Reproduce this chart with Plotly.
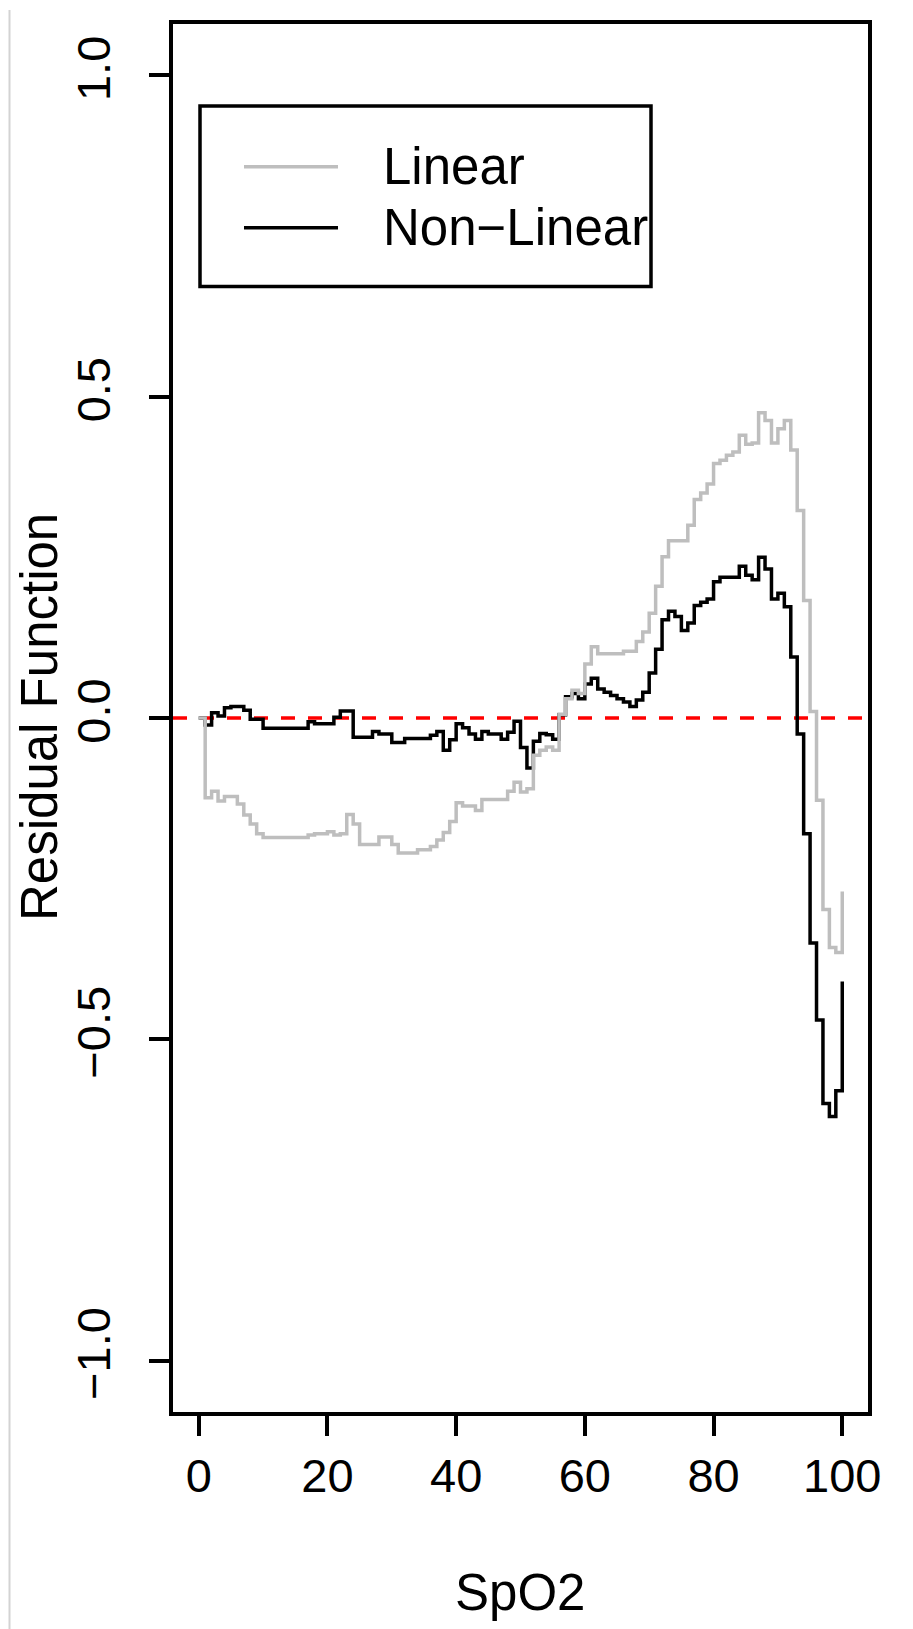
import plotly.graph_objects as go

# ---------------- data ----------------
spo2 = list(range(0, 101))

linear = [
    0.0,
    -0.124, -0.114, -0.129, -0.122, -0.122, -0.134, -0.151, -0.165, -0.180, -0.186,
    -0.186, -0.186, -0.186, -0.186, -0.186, -0.186, -0.182, -0.180, -0.180, -0.177,
    -0.182, -0.180, -0.150, -0.165, -0.197, -0.197, -0.197, -0.185, -0.185, -0.197,
    -0.210, -0.210, -0.210, -0.205, -0.205, -0.200, -0.190, -0.178, -0.161, -0.132,
    -0.137, -0.137, -0.144, -0.127, -0.127, -0.127, -0.127, -0.114, -0.100, -0.115,
    -0.110, -0.058, -0.050, -0.045, -0.050, 0.006, 0.030, 0.043, 0.038, 0.084,
    0.111, 0.100, 0.100, 0.100, 0.100, 0.104, 0.104, 0.119, 0.134, 0.163,
    0.205, 0.251, 0.276, 0.276, 0.276, 0.300, 0.340, 0.350, 0.364, 0.396,
    0.401, 0.409, 0.414, 0.440, 0.426, 0.428, 0.475, 0.463, 0.428, 0.450,
    0.463, 0.417, 0.323, 0.183, 0.010, -0.128, -0.298, -0.357, -0.365, -0.270,
]

nonlinear = [
    0.0,
    -0.011, 0.008, 0.003, 0.016, 0.018, 0.018, 0.012, -0.002, -0.002, -0.016,
    -0.016, -0.016, -0.016, -0.016, -0.016, -0.016, -0.006, -0.009, -0.009, -0.009,
    0.001, 0.011, 0.011, -0.030, -0.030, -0.030, -0.021, -0.025, -0.025, -0.038,
    -0.038, -0.032, -0.032, -0.032, -0.032, -0.027, -0.021, -0.050, -0.034, -0.009,
    -0.015, -0.025, -0.033, -0.021, -0.025, -0.025, -0.033, -0.022, -0.005, -0.046,
    -0.078, -0.036, -0.024, -0.026, -0.033, 0.005, 0.033, 0.038, 0.030, 0.053,
    0.062, 0.045, 0.040, 0.035, 0.030, 0.025, 0.018, 0.028, 0.040, 0.070,
    0.107, 0.153, 0.166, 0.158, 0.136, 0.148, 0.175, 0.180, 0.185, 0.212,
    0.219, 0.219, 0.219, 0.236, 0.222, 0.215, 0.250, 0.232, 0.185, 0.194,
    0.173, 0.095, -0.025, -0.180, -0.350, -0.470, -0.600, -0.620, -0.580, -0.410,
]

series_names = ["Linear", "Non\u2212Linear"]
series_colors = ["#BEBEBE", "#000000"]
x_ticks = [0, 20, 40, 60, 80, 100]
y_ticks = [-1.0, -0.5, 0.0, 0.5, 1.0]
y_tick_text = ["\u22121.0", "\u22120.5", "0.0", "0.5", "1.0"]

# ---------------- layout geometry ----------------
W, H = 913, 1629
L, R, T, B = 165, 53, 14, 225
PW, PH = W - L - R, H - T - B


def pxx(px):
    return (px - L) / PW


def pxy(py):
    return 1 - (py - T) / PH


FONT = "Liberation Sans, Arial, sans-serif"
TITLE_SIZE = 51
TICK_SIZE = 47
LW = 3.5

fig = go.Figure()

# non-linear first, linear drawn on top
fig.add_trace(go.Scatter(x=spo2, y=nonlinear, mode="lines", line_shape="hv",
                         line=dict(color=series_colors[1], width=LW),
                         name=series_names[1], showlegend=False))
fig.add_trace(go.Scatter(x=spo2, y=linear, mode="lines", line_shape="hv",
                         line=dict(color=series_colors[0], width=LW),
                         name=series_names[0], showlegend=False))

shapes = [
    # horizontal reference line at 0
    dict(type="line", xref="paper", yref="y", x0=0, x1=1, y0=0, y1=0,
         line=dict(color="#FF0000", width=LW, dash="14px,13px"), layer="below"),
    # legend box
    dict(type="rect", xref="paper", yref="paper",
         x0=pxx(192), x1=pxx(643), y0=pxy(96), y1=pxy(277),
         line=dict(color="black", width=LW), fillcolor="white"),
    dict(type="line", xref="paper", yref="paper",
         x0=pxx(236), x1=pxx(330), y0=pxy(157), y1=pxy(157),
         line=dict(color=series_colors[0], width=LW)),
    dict(type="line", xref="paper", yref="paper",
         x0=pxx(236), x1=pxx(330), y0=pxy(218), y1=pxy(218),
         line=dict(color=series_colors[1], width=LW)),
    # thin grey edge at the far left of the image
    dict(type="line", xref="paper", yref="paper",
         x0=pxx(1.5), x1=pxx(1.5), y0=pxy(0), y1=pxy(H),
         line=dict(color="#D3D3D3", width=2)),
]

annotations = [
    dict(text=series_names[0], xref="paper", yref="paper", x=pxx(373), y=pxy(157),
         xanchor="left", yanchor="middle", showarrow=False,
         font=dict(family=FONT, size=TITLE_SIZE, color="black")),
    dict(text=series_names[1], xref="paper", yref="paper", x=pxx(373), y=pxy(218),
         xanchor="left", yanchor="middle", showarrow=False,
         font=dict(family=FONT, size=TITLE_SIZE, color="black")),
    dict(text="Residual Function", xref="paper", yref="paper", x=pxx(31), y=pxy(708),
         xanchor="center", yanchor="middle", textangle=-90, showarrow=False,
         font=dict(family=FONT, size=TITLE_SIZE, color="black")),
    dict(text="SpO2", xref="paper", yref="paper", x=pxx(512), y=pxy(1585),
         xanchor="center", yanchor="middle", showarrow=False,
         font=dict(family=FONT, size=TITLE_SIZE, color="black")),
]

fig.update_layout(
    width=W, height=H,
    margin=dict(l=L, r=R, t=T, b=B, pad=0),
    paper_bgcolor="white", plot_bgcolor="white",
    shapes=shapes, annotations=annotations,
    font=dict(family=FONT, color="black"),
)

fig.update_xaxes(range=[-4, 104], tickvals=x_ticks, ticks="outside", ticklen=20,
                 tickwidth=LW, tickcolor="black", showgrid=False, zeroline=False,
                 showline=True, linewidth=LW, linecolor="black", mirror=True,
                 tickfont=dict(family=FONT, size=TICK_SIZE, color="black"))
fig.update_yaxes(range=[-1.08, 1.08], tickvals=y_ticks, ticktext=y_tick_text,
                 ticks="outside", ticklen=20, tickwidth=LW, tickcolor="black",
                 showgrid=False, zeroline=False, showline=True, linewidth=LW,
                 linecolor="black", mirror=True, tickangle=-90,
                 ticklabelstandoff=20,
                 tickfont=dict(family=FONT, size=TICK_SIZE, color="black"))

fig.write_html("out.html")
